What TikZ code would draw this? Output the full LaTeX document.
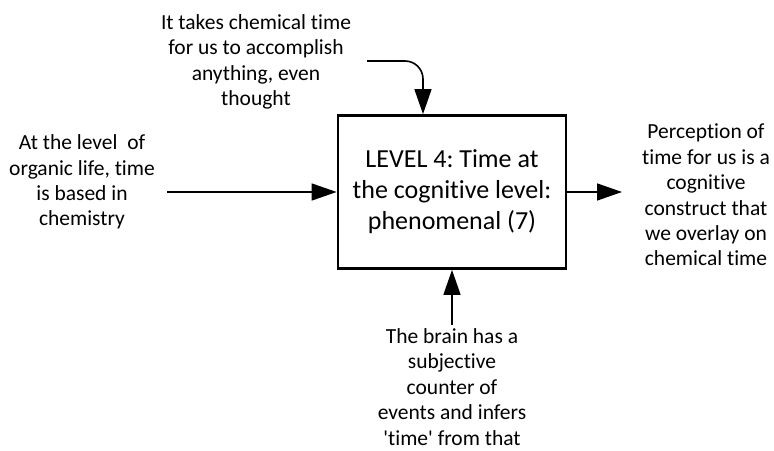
\documentclass[tikz,border=0pt]{standalone}
\usepackage{fontspec}
\setmainfont{Carlito}[Ligatures=NoCommon]
\usetikzlibrary{arrows.meta,positioning}
\frenchspacing
\begin{document}
\begin{tikzpicture}[x=1pt,y=1pt,
  note/.style={align=center, font=\fontsize{21.5}{25.4}\selectfont, inner sep=0pt},
  arr/.style={line width=1.6pt, -{Triangle[length=25pt,width=17pt]}}]
\useasboundingbox (0,0) rectangle (774,450);
\node[draw, line width=2.8pt, minimum width=228pt, minimum height=153pt, align=center,
      font=\fontsize{26}{31}\selectfont] (level) at (452,258)
      {LEVEL 4: Time at\\the cognitive level:\\phenomenal (7)};
\node[note] (chem) at (256,388) {It takes chemical time\\for us to accomplish\\anything, even\\thought};
\node[note] (organic) at (82,268) {At the level \ of\\organic life, time\\is based in\\chemistry};
\node[note] (percep) at (706,255) {Perception of\\time for us is a\\cognitive\\construct that\\we overlay on\\chemical time};
\node[note] (brain) at (452,63) {The brain has a\\subjective\\counter of\\events and infers\\\textquotesingle time\textquotesingle\ from that};
\coordinate (chemout) at (367,389);
\coordinate (organicout) at (167,258);
\coordinate (percepin) at (622,258);
\coordinate (brainout) at (452,125);
\draw[arr, rounded corners=18pt] (chemout) -| ([xshift=-29pt]level.north);
\draw[arr] (organicout) -- (level.west);
\draw[arr] (level.east) -- (percepin);
\draw[arr] (brainout) -- (level.south);
\end{tikzpicture}
\end{document}
